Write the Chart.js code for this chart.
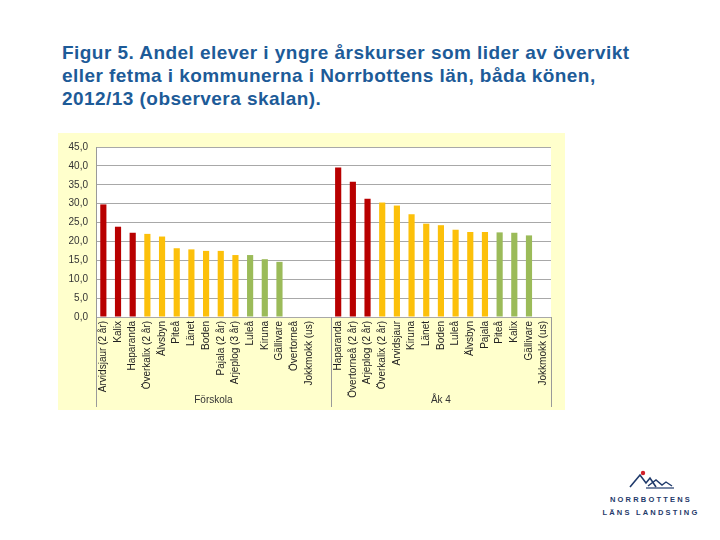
<!DOCTYPE html>
<html>
<head>
<meta charset="utf-8">
<script src="https://cdn.jsdelivr.net/npm/chart.js@4.4.0/dist/chart.umd.min.js"></script>
<style>
  body { margin: 0; background: #fff; width: 720px; height: 540px; position: relative; overflow: hidden; }
  #title { position: absolute; left: 62px; top: 41px; font: bold 19px "Liberation Sans", Arial, sans-serif; letter-spacing: 0.45px; line-height: 23px; color: #1d5b98; white-space: nowrap; }
  #box { position: absolute; left: 58px; top: 133px; width: 507px; height: 277px; background: #ffffcc; }
  #logo { position: absolute; left: 596px; top: 469px; width: 110px; text-align: center; color: #1f3a6b; font: bold 7.5px "Liberation Sans", Arial, sans-serif; letter-spacing: 2.2px; line-height: 13px; }
</style>
</head>
<body>
<div id="title">Figur 5. Andel elever i yngre årskurser som lider av övervikt<br>eller fetma i kommunerna i Norrbottens län, båda könen,<br>2012/13 (observera skalan).</div>
<div id="box"><canvas id="chart" width="507" height="277"></canvas></div>
<div id="logo">
  <svg width="50" height="20" viewBox="0 0 50 20">
    <polyline points="4,18 14,6 20,14 24,9 30,18" fill="none" stroke="#1f3a6b" stroke-width="1.6"/>
    <polyline points="22,17 30,11 36,16 40,13 46,17" fill="none" stroke="#1f3a6b" stroke-width="1.4"/>
    <line x1="20" y1="19" x2="48" y2="19" stroke="#1f3a6b" stroke-width="1.2"/>
    <circle cx="17" cy="4" r="2.2" fill="#d0202a"/>
  </svg>
  <div>NORRBOTTENS</div>
  <div>LÄNS LANDSTING</div>
</div>
<script>
const forskolaLabels = ['Arvidsjaur (2 år)', 'Kalix', 'Haparanda', 'Överkalix (2 år)', 'Älvsbyn', 'Piteå', 'Länet', 'Boden',
  'Pajala (2 år)', 'Arjeplog (3 år)', 'Luleå', 'Kiruna', 'Gällivare', 'Övertorneå', 'Jokkmokk (us)'];
const forskolaValues = [29.8, 23.9, 22.3, 22.0, 21.3, 18.2, 17.9, 17.5, 17.5, 16.4, 16.4, 15.3, 14.6, null, null];
const ak4Labels = ['Haparanda', 'Övertorneå (2 år)', 'Arjeplog (2 år)', 'Överkalix (2 år)', 'Arvidsjaur', 'Kiruna', 'Länet',
  'Boden', 'Luleå', 'Älvsbyn', 'Pajala', 'Piteå', 'Kalix', 'Gällivare', 'Jokkmokk (us)'];
const ak4Values = [39.6, 35.8, 31.3, 30.3, 29.5, 27.2, 24.7, 24.3, 23.1, 22.5, 22.5, 22.4, 22.3, 21.6, null];
const groupNames = ['Förskola', 'Åk 4'];
const yTicks = [0, 5, 10, 15, 20, 25, 30, 35, 40, 45];

// colour class per bar: h = high (red), m = middle (yellow), l = low (green)
const forskolaLevel = ['h', 'h', 'h', 'm', 'm', 'm', 'm', 'm', 'm', 'm', 'l', 'l', 'l', 'l', 'l'];
const ak4Level = ['h', 'h', 'h', 'm', 'm', 'm', 'm', 'm', 'm', 'm', 'm', 'l', 'l', 'l', 'l'];
const levelColor = { h: '#b80000', m: '#fcc00a', l: '#9bbb59', gap: '#ffffff' };

// one empty slot closes the Förskola group
const labels = [...forskolaLabels, '', ...ak4Labels];
const values = [...forskolaValues, null, ...ak4Values];
const colors = [...forskolaLevel, 'gap', ...ak4Level].map(k => levelColor[k]);
const groupEnds = [forskolaLabels.length, labels.length - 1]; // last index of each group

const font = '"Liberation Sans", Arial, sans-serif';

const groupsPlugin = {
  id: 'groups',
  beforeDraw(chart) {
    const { ctx, chartArea: a } = chart;
    ctx.save();
    ctx.fillStyle = '#ffffff';
    ctx.fillRect(a.left, a.top, a.right - a.left, a.bottom - a.top);
    ctx.restore();
  },
  afterDraw(chart) {
    const { ctx, chartArea: a, scales: { x } } = chart;
    const half = (x.getPixelForValue(1) - x.getPixelForValue(0)) / 2;
    const edges = [a.left, ...groupEnds.map(i => x.getPixelForValue(i) + half)];
    const lineBottom = a.bottom + 90;
    ctx.save();
    ctx.strokeStyle = '#9a9a9a';
    ctx.lineWidth = 1;
    edges.forEach(px => {
      const p = Math.round(px) + 0.5;
      ctx.beginPath();
      ctx.moveTo(p, a.bottom);
      ctx.lineTo(p, lineBottom);
      ctx.stroke();
    });
    ctx.fillStyle = '#333';
    ctx.font = '10px ' + font;
    ctx.textAlign = 'center';
    ctx.textBaseline = 'middle';
    groupNames.forEach((name, i) => {
      ctx.fillText(name, (edges[i] + edges[i + 1]) / 2, a.bottom + 83);
    });
    ctx.restore();
  }
};

new Chart(document.getElementById('chart'), {
  type: 'bar',
  data: {
    labels: labels,
    datasets: [{
      data: values,
      backgroundColor: colors,
      barPercentage: 0.42,
      categoryPercentage: 1.0,
    }],
  },
  options: {
    responsive: false,
    animation: false,
    layout: { padding: { top: 10, right: 14, left: 0, bottom: 0 } },
    plugins: { legend: { display: false }, tooltip: { enabled: false } },
    scales: {
      x: {
        grid: { display: false, drawTicks: false },
        border: { display: false },
        ticks: {
          autoSkip: false, maxRotation: 90, minRotation: 90, padding: 4,
          color: '#222', font: { size: 10, family: '"Liberation Sans Narrow", ' + font },
        },
        afterFit(scale) { scale.height = 93; },
      },
      y: {
        min: 0, max: 45,
        afterBuildTicks(scale) { scale.ticks = yTicks.map(v => ({ value: v })); },
        grid: { color: '#a8a8a8', drawTicks: false },
        border: { color: '#9a9a9a' },
        ticks: {
          padding: 8, color: '#333', font: { size: 10, family: font },
          callback: v => v.toFixed(1).replace('.', ','),
        },
        afterFit(scale) { scale.width = 38; },
      },
    },
  },
  plugins: [groupsPlugin],
});
</script>
</body>
</html>
